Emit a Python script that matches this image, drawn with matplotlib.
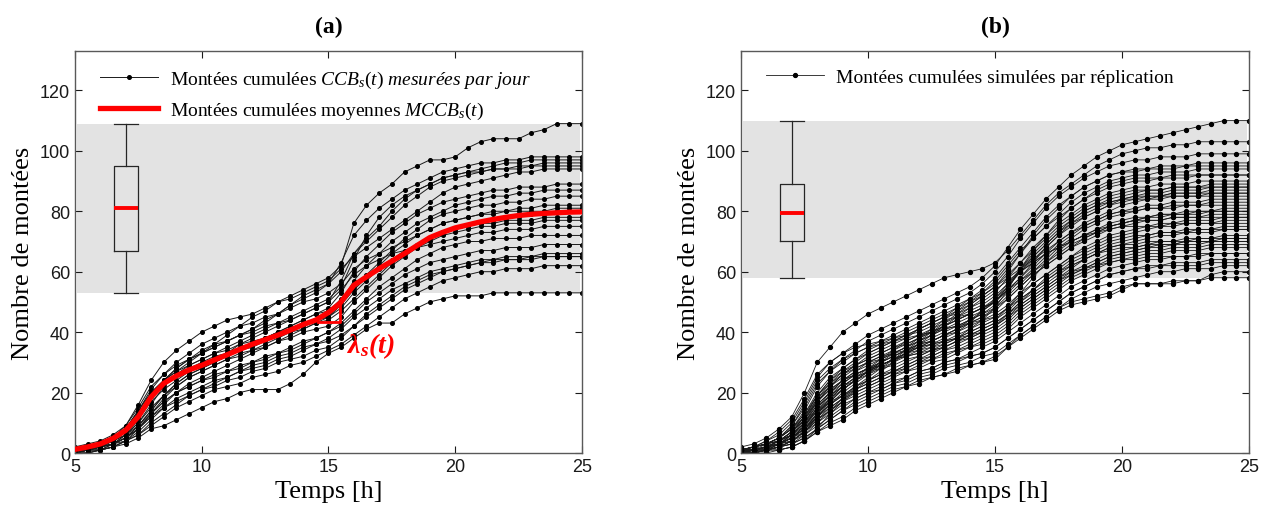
import matplotlib.pyplot as plt

plt.rcParams['mathtext.fontset'] = 'custom'
plt.rcParams['mathtext.rm'] = 'Liberation Serif'
plt.rcParams['mathtext.it'] = 'Liberation Serif:italic'
plt.rcParams['mathtext.bf'] = 'Liberation Serif:bold:italic'

# sampling times (h), every half hour from 5h to 25h
hours = [5 + 0.5 * i for i in range(41)]

# (a) measured cumulated boardings, one list per day
days_a = [
    [1, 2, 3, 5, 8, 14, 20, 24, 27, 30, 33, 36, 39, 42, 45, 47, 50, 52, 54, 56,
     58, 62, 76, 82, 86, 89, 93, 95, 97, 97, 98, 101, 103, 104, 104, 104, 106, 107, 109, 109, 109],
    [0, 1, 2, 4, 7, 12, 19, 24, 28, 31, 33, 35, 37, 39, 41, 44, 46, 49, 51, 53,
     56, 63, 72, 77, 81, 84, 87, 89, 91, 93, 94, 95, 96, 96, 97, 97, 98, 98, 98, 98, 98],
    [1, 1, 2, 3, 6, 10, 16, 22, 26, 29, 31, 33, 35, 37, 39, 41, 43, 45, 47, 49,
     51, 55, 64, 72, 78, 82, 85, 87, 89, 91, 92, 93, 94, 95, 96, 96, 97, 97, 97, 97, 97],
    [2, 3, 4, 6, 9, 15, 22, 26, 29, 31, 33, 35, 37, 39, 41, 43, 46, 49, 52, 54,
     56, 60, 66, 70, 74, 78, 82, 85, 88, 90, 91, 92, 93, 94, 94, 95, 95, 96, 96, 96, 96],
    [0, 1, 1, 3, 6, 11, 17, 21, 24, 27, 29, 31, 33, 36, 38, 40, 42, 44, 46, 48,
     50, 57, 66, 71, 75, 80, 84, 87, 89, 91, 92, 93, 93, 94, 94, 94, 95, 95, 95, 95, 95],
    [1, 2, 3, 5, 9, 16, 24, 30, 34, 37, 40, 42, 44, 45, 46, 48, 50, 51, 53, 55,
     57, 61, 65, 68, 71, 74, 77, 80, 83, 86, 88, 89, 90, 91, 92, 93, 93, 94, 94, 94, 94],
    [1, 1, 2, 4, 6, 10, 15, 19, 23, 26, 28, 30, 32, 34, 36, 38, 40, 42, 44, 46,
     48, 53, 60, 65, 69, 73, 76, 79, 81, 83, 84, 85, 86, 87, 87, 88, 88, 88, 89, 89, 89],
    [0, 1, 2, 3, 5, 9, 14, 19, 23, 26, 28, 30, 32, 34, 35, 37, 39, 41, 43, 44,
     45, 50, 57, 62, 66, 70, 73, 76, 78, 80, 82, 83, 84, 85, 85, 86, 86, 87, 87, 87, 87],
    [1, 2, 3, 5, 8, 13, 19, 23, 26, 28, 30, 32, 33, 35, 36, 38, 40, 42, 44, 46,
     47, 51, 55, 59, 63, 67, 71, 74, 77, 79, 80, 81, 82, 82, 83, 83, 84, 84, 85, 85, 85],
    [0, 1, 2, 3, 5, 8, 12, 16, 20, 23, 25, 27, 29, 31, 33, 35, 37, 39, 41, 43,
     45, 49, 54, 58, 62, 66, 69, 72, 74, 76, 77, 78, 79, 80, 80, 81, 81, 82, 82, 82, 82],
    [1, 2, 3, 5, 8, 14, 21, 26, 30, 33, 36, 38, 40, 42, 43, 45, 46, 48, 50, 51,
     53, 56, 61, 64, 66, 68, 70, 72, 74, 76, 77, 78, 79, 79, 80, 80, 80, 80, 81, 81, 81],
    [0, 0, 1, 2, 4, 8, 13, 18, 22, 25, 27, 29, 31, 33, 34, 36, 38, 40, 41, 43,
     44, 47, 51, 55, 59, 63, 66, 69, 71, 73, 74, 75, 76, 77, 78, 78, 79, 79, 80, 80, 80],
    [1, 2, 3, 5, 8, 14, 20, 24, 27, 29, 31, 33, 34, 36, 37, 38, 40, 41, 42, 44,
     45, 48, 53, 57, 61, 64, 67, 69, 71, 73, 74, 75, 76, 76, 77, 77, 77, 78, 78, 78, 78],
    [0, 1, 2, 3, 5, 9, 14, 19, 22, 25, 27, 29, 31, 32, 34, 35, 37, 38, 40, 41,
     42, 45, 50, 54, 58, 62, 65, 68, 70, 72, 73, 74, 75, 75, 76, 76, 76, 77, 77, 77, 77],
    [1, 1, 2, 4, 7, 12, 19, 24, 28, 31, 34, 36, 37, 39, 40, 42, 43, 44, 46, 48,
     50, 54, 59, 62, 64, 66, 67, 68, 69, 70, 71, 72, 73, 73, 74, 74, 74, 75, 75, 75, 75],
    [0, 1, 1, 3, 5, 8, 13, 17, 20, 22, 24, 26, 27, 29, 30, 32, 33, 35, 37, 38,
     40, 43, 47, 51, 55, 58, 61, 64, 66, 68, 69, 70, 70, 71, 71, 71, 72, 72, 72, 72, 72],
    [1, 2, 3, 4, 6, 9, 13, 17, 20, 22, 24, 25, 27, 28, 30, 31, 33, 34, 36, 38,
     40, 42, 46, 50, 53, 56, 59, 61, 63, 64, 65, 66, 67, 67, 68, 68, 68, 69, 69, 69, 69],
    [0, 1, 2, 3, 4, 7, 11, 15, 18, 20, 22, 24, 25, 27, 28, 29, 31, 32, 34, 36,
     38, 41, 45, 48, 51, 54, 56, 58, 60, 61, 62, 63, 64, 64, 65, 65, 65, 66, 66, 66, 66],
    [1, 1, 2, 3, 5, 8, 12, 15, 17, 19, 21, 22, 24, 25, 27, 28, 30, 31, 32, 34,
     35, 38, 42, 46, 49, 52, 55, 57, 59, 60, 61, 62, 63, 63, 64, 64, 64, 65, 65, 65, 65],
    [0, 0, 1, 2, 4, 6, 10, 13, 16, 19, 21, 23, 25, 27, 29, 30, 32, 33, 35, 36,
     37, 39, 42, 45, 48, 51, 54, 56, 58, 60, 61, 62, 63, 64, 64, 64, 65, 65, 65, 65, 65],
    [0, 1, 1, 2, 4, 6, 9, 12, 15, 17, 19, 21, 22, 23, 25, 26, 27, 29, 30, 32,
     34, 36, 39, 42, 45, 48, 51, 53, 55, 57, 58, 59, 60, 60, 61, 61, 61, 62, 62, 62, 62],
    [0, 0, 1, 2, 3, 5, 8, 9, 11, 13, 15, 17, 18, 20, 21, 21, 21, 23, 26, 30,
     33, 35, 38, 41, 43, 43, 46, 48, 50, 51, 52, 52, 52, 53, 53, 53, 53, 53, 53, 53, 53],
]

# (a) mean cumulated boardings MCCB_s(t)
mean_hours = [5, 5.5, 6, 6.5, 7, 7.5, 8, 8.5, 9, 9.5, 10, 10.5, 11, 11.5, 12, 12.5, 13,
              13.5, 14, 14.5, 15, 15.45, 16, 16.5, 17, 17.5, 18, 18.5, 19, 19.5, 20,
              20.5, 21, 21.5, 22, 22.5, 23, 23.5, 24, 24.5, 25]
mean_a = [1.2, 2, 3, 4.8, 7.5, 12, 18.5, 23, 25.5, 27.5, 29, 30.8, 32.5, 34.3, 36, 37.5, 39,
          40.7, 42.5, 44, 46.5, 49.5, 55.5, 58.3, 61, 63.5, 66, 68.7, 71.3, 73, 74.5,
          75.5, 76.5, 77.3, 78, 78.6, 79, 79.3, 79.5, 79.7, 79.8]

# slope triangle for lambda_s(t)
slope_t = [14.6, 15.45, 15.45]
slope_y = [43.4, 43.4, 49.4]

# (b) simulated cumulated boardings, one list per replication
reps_b = [
    [1, 2, 4, 6, 10, 17, 25, 30, 33, 36, 39, 41, 43, 45, 47, 49, 51, 53, 55, 58,
     62, 68, 74, 79, 84, 88, 92, 95, 98, 100, 102, 103, 104, 105, 106, 107, 108, 109, 110, 110, 110],
    [2, 3, 5, 8, 12, 20, 30, 35, 40, 43, 46, 48, 50, 52, 54, 56, 58, 59, 60, 61,
     63, 67, 72, 77, 82, 86, 89, 92, 95, 97, 99, 100, 101, 101, 102, 102, 103, 103, 103, 103, 103],
    [1, 2, 3, 5, 8, 14, 22, 27, 31, 34, 37, 39, 41, 43, 45, 47, 49, 51, 53, 56,
     60, 65, 71, 76, 81, 85, 88, 91, 93, 95, 96, 97, 97, 98, 98, 98, 99, 99, 99, 99, 99],
    [0, 1, 2, 4, 7, 12, 19, 24, 28, 31, 34, 36, 38, 40, 42, 44, 46, 48, 51, 54,
     58, 63, 68, 73, 78, 82, 85, 88, 90, 92, 93, 94, 94, 95, 95, 95, 96, 96, 96, 96, 96],
    [1, 1, 3, 5, 9, 15, 23, 27, 30, 33, 35, 37, 39, 41, 43, 45, 47, 49, 51, 53,
     56, 61, 66, 71, 75, 79, 83, 86, 88, 90, 91, 92, 92, 93, 93, 93, 94, 94, 94, 94, 94],
    [0, 1, 2, 3, 6, 11, 17, 22, 26, 29, 32, 34, 36, 38, 41, 43, 45, 48, 50, 53,
     57, 62, 67, 71, 75, 78, 81, 84, 86, 88, 89, 90, 90, 91, 91, 91, 92, 92, 92, 92, 92],
    [1, 2, 3, 5, 8, 13, 20, 25, 28, 31, 33, 35, 37, 39, 41, 43, 45, 46, 48, 50,
     53, 58, 63, 68, 72, 76, 79, 82, 84, 86, 87, 88, 88, 89, 89, 89, 90, 90, 90, 90, 90],
    [0, 1, 1, 3, 5, 9, 15, 20, 24, 27, 30, 32, 34, 37, 39, 41, 43, 45, 47, 49,
     52, 56, 61, 65, 69, 73, 77, 80, 82, 84, 85, 86, 87, 87, 88, 88, 88, 89, 89, 89, 89],
    [1, 1, 2, 4, 7, 11, 18, 22, 26, 29, 31, 33, 35, 37, 39, 40, 42, 44, 46, 48,
     51, 55, 60, 64, 68, 72, 75, 78, 80, 82, 84, 85, 86, 86, 87, 87, 87, 88, 88, 88, 88],
    [0, 0, 1, 3, 5, 8, 13, 17, 21, 24, 27, 29, 31, 33, 35, 37, 39, 41, 44, 47,
     50, 55, 60, 65, 69, 73, 76, 78, 80, 82, 83, 84, 85, 85, 86, 86, 86, 87, 87, 87, 87],
    [1, 2, 3, 4, 7, 12, 19, 24, 27, 29, 31, 33, 35, 36, 38, 40, 42, 44, 46, 48,
     50, 54, 58, 62, 66, 70, 73, 76, 78, 80, 82, 83, 84, 84, 85, 85, 85, 86, 86, 86, 86],
    [0, 1, 2, 3, 5, 9, 14, 19, 23, 26, 28, 30, 32, 34, 36, 38, 40, 42, 44, 46,
     49, 53, 57, 61, 65, 69, 72, 75, 77, 79, 80, 81, 82, 82, 83, 83, 83, 84, 84, 84, 84],
    [1, 1, 2, 4, 6, 10, 16, 20, 23, 26, 28, 30, 32, 34, 36, 37, 39, 41, 43, 45,
     48, 52, 56, 60, 64, 68, 71, 74, 76, 78, 79, 80, 81, 81, 82, 82, 82, 83, 83, 83, 83],
    [0, 1, 2, 3, 6, 10, 17, 22, 25, 28, 30, 32, 33, 35, 37, 39, 41, 42, 44, 46,
     48, 51, 55, 59, 62, 65, 68, 71, 73, 75, 76, 77, 78, 79, 79, 80, 80, 80, 81, 81, 81],
    [1, 1, 2, 4, 6, 10, 16, 20, 24, 27, 29, 31, 33, 35, 37, 39, 41, 43, 45, 47,
     50, 54, 57, 60, 63, 66, 69, 71, 73, 75, 76, 77, 78, 78, 79, 79, 79, 80, 80, 80, 80],
    [0, 1, 1, 2, 4, 7, 12, 17, 21, 24, 27, 29, 31, 33, 35, 37, 39, 41, 43, 45,
     47, 51, 55, 59, 62, 65, 68, 70, 72, 74, 75, 76, 77, 77, 78, 78, 78, 79, 79, 79, 79],
    [1, 2, 3, 5, 8, 13, 19, 23, 26, 28, 30, 31, 33, 34, 36, 37, 39, 40, 42, 44,
     46, 49, 53, 56, 59, 62, 65, 68, 70, 72, 73, 74, 75, 76, 76, 77, 77, 77, 78, 78, 78],
    [0, 0, 1, 3, 5, 8, 13, 18, 22, 25, 27, 29, 31, 33, 34, 36, 37, 39, 41, 43,
     45, 48, 52, 56, 59, 62, 65, 67, 69, 71, 72, 73, 74, 75, 75, 76, 76, 76, 77, 77, 77],
    [1, 1, 2, 3, 5, 9, 15, 19, 22, 25, 27, 28, 30, 32, 33, 35, 36, 38, 40, 42,
     44, 47, 51, 54, 57, 60, 63, 65, 67, 69, 70, 71, 72, 73, 73, 74, 74, 74, 75, 75, 75],
    [0, 1, 2, 4, 6, 10, 15, 19, 22, 24, 26, 28, 29, 31, 32, 34, 35, 37, 39, 41,
     43, 46, 50, 53, 56, 59, 62, 64, 66, 68, 69, 70, 71, 72, 72, 73, 73, 73, 74, 74, 74],
    [1, 1, 2, 3, 5, 8, 12, 16, 19, 22, 24, 26, 27, 29, 31, 32, 34, 35, 37, 39,
     41, 44, 48, 51, 54, 57, 60, 62, 64, 66, 67, 68, 69, 70, 70, 71, 71, 71, 72, 72, 72],
    [0, 0, 1, 2, 4, 7, 11, 15, 18, 21, 23, 25, 27, 28, 30, 31, 33, 34, 36, 38,
     40, 43, 47, 50, 53, 56, 59, 61, 63, 65, 66, 67, 68, 69, 69, 70, 70, 70, 71, 71, 71],
    [1, 2, 3, 4, 7, 11, 17, 21, 24, 26, 28, 29, 31, 32, 33, 34, 35, 37, 38, 40,
     42, 45, 48, 51, 54, 57, 59, 61, 63, 65, 66, 67, 68, 68, 69, 69, 69, 70, 70, 70, 70],
    [0, 1, 1, 3, 5, 8, 12, 15, 18, 20, 22, 24, 26, 27, 29, 31, 32, 34, 35, 37,
     39, 42, 46, 49, 52, 55, 58, 60, 62, 64, 65, 66, 67, 67, 68, 68, 68, 69, 69, 69, 69],
    [1, 1, 2, 3, 4, 7, 11, 14, 17, 19, 21, 23, 25, 27, 28, 30, 31, 33, 35, 36,
     38, 41, 45, 48, 51, 54, 57, 59, 61, 63, 64, 65, 66, 66, 67, 67, 67, 68, 68, 68, 68],
    [0, 0, 1, 2, 3, 6, 9, 12, 15, 18, 20, 22, 24, 25, 27, 28, 30, 31, 33, 35,
     37, 40, 43, 46, 49, 52, 55, 57, 59, 61, 62, 63, 64, 64, 65, 65, 65, 66, 66, 66, 66],
    [1, 1, 2, 3, 5, 7, 10, 13, 16, 18, 20, 21, 23, 24, 26, 27, 29, 30, 32, 33,
     35, 38, 41, 44, 47, 50, 53, 55, 57, 59, 60, 61, 62, 62, 63, 63, 63, 64, 64, 64, 64],
    [0, 1, 1, 2, 3, 5, 8, 11, 14, 16, 18, 20, 22, 23, 25, 26, 28, 29, 30, 32,
     33, 36, 39, 42, 45, 48, 51, 53, 55, 56, 57, 58, 59, 60, 60, 61, 61, 61, 62, 62, 62],
    [0, 0, 1, 1, 2, 4, 7, 9, 11, 14, 16, 18, 20, 22, 23, 25, 26, 27, 29, 30,
     31, 35, 38, 41, 44, 47, 49, 50, 51, 52, 54, 56, 56, 56, 56, 57, 57, 59, 60, 60, 60],
    [0, 0, 0, 1, 2, 4, 7, 10, 12, 15, 17, 19, 21, 22, 24, 25, 26, 28, 29, 30,
     32, 35, 39, 42, 45, 48, 50, 51, 52, 53, 55, 56, 56, 56, 57, 57, 57, 58, 58, 58, 58],
    [1, 2, 4, 7, 11, 18, 26, 30, 33, 35, 36, 37, 38, 39, 40, 42, 44, 45, 46, 48,
     50, 55, 61, 66, 70, 74, 77, 80, 82, 83, 84, 84, 84, 85, 85, 85, 85, 85, 85, 85, 85],
    [0, 0, 1, 1, 2, 4, 8, 13, 17, 21, 24, 27, 30, 33, 36, 39, 42, 45, 48, 51,
     54, 57, 60, 63, 66, 68, 70, 72, 73, 74, 75, 75, 75, 75, 76, 76, 76, 76, 76, 76, 76],
    [0, 1, 1, 2, 4, 7, 12, 16, 19, 22, 24, 26, 28, 30, 32, 34, 36, 38, 41, 44,
     48, 54, 61, 67, 72, 77, 81, 84, 87, 89, 90, 91, 91, 91, 92, 92, 92, 92, 92, 92, 92],
    [1, 2, 3, 5, 9, 16, 24, 28, 31, 33, 35, 36, 37, 38, 39, 40, 41, 42, 43, 44,
     45, 48, 51, 54, 57, 60, 62, 64, 66, 67, 68, 68, 69, 69, 69, 70, 70, 70, 70, 70, 70],
    [0, 1, 2, 3, 5, 9, 14, 18, 21, 24, 27, 30, 33, 35, 38, 41, 44, 47, 50, 52,
     55, 59, 63, 67, 71, 75, 78, 81, 83, 85, 86, 87, 87, 87, 88, 88, 88, 88, 88, 88, 88],
    [1, 1, 2, 3, 6, 10, 14, 17, 19, 21, 23, 25, 27, 29, 31, 33, 35, 37, 39, 41,
     43, 46, 49, 52, 55, 58, 60, 61, 62, 63, 64, 64, 65, 65, 65, 65, 66, 66, 66, 66, 66],
    [0, 1, 2, 3, 5, 8, 12, 16, 20, 23, 26, 29, 31, 33, 35, 36, 38, 40, 43, 47,
     51, 56, 60, 63, 66, 68, 70, 72, 74, 76, 77, 78, 78, 79, 79, 79, 80, 80, 80, 80, 80],
    [1, 2, 3, 4, 6, 9, 13, 17, 21, 24, 27, 30, 32, 34, 35, 36, 37, 38, 39, 40,
     42, 46, 50, 54, 58, 61, 64, 66, 68, 70, 71, 72, 72, 73, 73, 73, 74, 74, 74, 74, 74],
    [1, 1, 2, 4, 7, 12, 18, 23, 27, 30, 33, 35, 37, 39, 41, 43, 45, 47, 49, 52,
     55, 60, 66, 72, 77, 81, 85, 88, 90, 92, 93, 93, 94, 94, 94, 95, 95, 95, 95, 95, 95],
    [0, 0, 1, 2, 4, 6, 10, 14, 18, 22, 25, 28, 31, 34, 37, 40, 43, 46, 49, 52,
     55, 58, 61, 64, 67, 70, 73, 75, 77, 79, 80, 80, 81, 81, 81, 82, 82, 82, 82, 82, 82],
    [1, 2, 3, 5, 8, 12, 17, 21, 24, 26, 28, 29, 31, 32, 34, 35, 37, 38, 40, 42,
     44, 48, 53, 58, 63, 67, 70, 72, 74, 75, 76, 77, 77, 77, 78, 78, 78, 78, 78, 78, 78],
    [0, 1, 2, 3, 4, 7, 11, 14, 17, 20, 22, 24, 26, 28, 30, 32, 34, 36, 38, 40,
     42, 45, 49, 52, 55, 58, 61, 64, 66, 68, 69, 69, 70, 70, 70, 70, 71, 71, 71, 71, 71],
    [1, 1, 2, 3, 5, 8, 13, 18, 22, 25, 28, 31, 34, 36, 38, 40, 42, 44, 46, 48,
     50, 54, 58, 63, 68, 72, 76, 79, 81, 83, 84, 85, 85, 85, 86, 86, 86, 86, 86, 86, 86],
    [0, 0, 1, 2, 3, 5, 8, 11, 14, 17, 19, 21, 23, 25, 27, 28, 30, 31, 32, 33,
     35, 38, 41, 44, 47, 50, 53, 55, 57, 59, 60, 61, 61, 62, 62, 62, 62, 63, 63, 63, 63],
]

# box plots of the final counts: whislo, q1, median, q3, whishi
box_a = [53, 67, 81, 95, 109]
box_b = [58, 70, 79.5, 89, 110]

label_days = 'Montées cumulées $\\mathit{CCB_s(t)}$ $\\mathit{mesurées\\ par\\ jour}$'
label_mean = 'Montées cumulées moyennes $\\mathit{MCCB_s(t)}$'
label_reps = 'Montées cumulées simulées par réplication'

serif = 'Liberation Serif'
tick_font = 'Liberation Sans'


def draw_box(ax, vals):
    stats = [dict(whislo=vals[0], q1=vals[1], med=vals[2], q3=vals[3], whishi=vals[4], fliers=[])]
    ax.axhspan(vals[0], vals[4], xmin=0.004, xmax=0.996, color='#e3e3e3', lw=0, zorder=0)
    ax.bxp(stats, positions=[7], widths=0.95, capwidths=0.95, showfliers=False,
           manage_ticks=False, patch_artist=False,
           boxprops=dict(color='0.15', lw=0.9),
           whiskerprops=dict(color='0.15', lw=0.9, linestyle='-'),
           capprops=dict(color='0.15', lw=0.9),
           medianprops=dict(color='red', lw=2.8))


def style(ax, title):
    ax.set_xlim(5, 25)
    ax.set_ylim(0, 133)
    ax.set_xticks([5, 10, 15, 20, 25])
    ax.set_yticks([0, 20, 40, 60, 80, 100, 120])
    ax.tick_params(direction='in', top=True, right=True, length=5, width=0.8,
                   labelsize=13, colors='0.1', labelfontfamily=tick_font)
    for sp in ax.spines.values():
        sp.set_color('0.35')
        sp.set_linewidth(1.0)
    ax.set_xlabel('Temps [h]', fontsize=19, family=serif)
    ax.set_ylabel('Nombre de montées', fontsize=19, family=serif)
    ax.set_title(title, fontsize=17, fontweight='bold', family=serif, pad=14)


fig = plt.figure(figsize=(12.66, 5.10), dpi=100)
ax1 = fig.add_axes([0.0592, 0.1098, 0.4005, 0.788])
ax2 = fig.add_axes([0.5853, 0.1098, 0.4013, 0.788])

# panel (a)
draw_box(ax1, box_a)
for i, d in enumerate(days_a):
    ax1.plot(hours, d, color='0.1', lw=0.7, marker='o', ms=2.6, mfc='k', mec='k',
             label=label_days if i == 0 else None, zorder=2)
ax1.plot(mean_hours, mean_a, color='red', lw=3.8, label=label_mean, zorder=3)
ax1.plot(slope_t, slope_y, color='red', lw=2, zorder=3)
ax1.text(15.75, 33.5, '$\\mathbf{\\lambda_s(t)}$', color='red', fontsize=20, zorder=4)
ax1.legend(loc='upper left', bbox_to_anchor=(0.015, 1.0), frameon=False,
           handlelength=3.0, handletextpad=0.6, numpoints=1,
           prop=dict(family=serif, size=14))
style(ax1, '(a)')

# panel (b)
draw_box(ax2, box_b)
for i, r in enumerate(reps_b):
    ax2.plot(hours, r, color='0.1', lw=0.6, marker='o', ms=2.8, mfc='k', mec='k',
             label=label_reps if i == 0 else None, zorder=2)
ax2.legend(loc='upper left', bbox_to_anchor=(0.015, 1.0), frameon=False,
           handlelength=3.0, handletextpad=0.6, numpoints=1,
           prop=dict(family=serif, size=14))
style(ax2, '(b)')

fig.savefig('out.png', dpi=100)
